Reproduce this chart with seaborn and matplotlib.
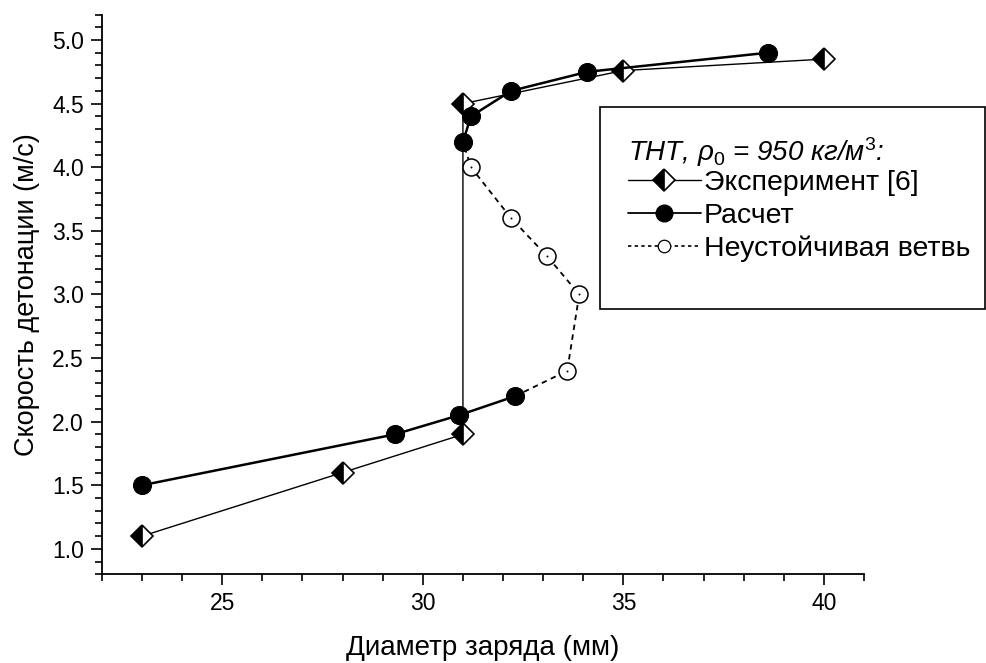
import matplotlib
matplotlib.use('Agg')
import numpy as np
import pandas as pd
import matplotlib.pyplot as plt
import seaborn as sns
from matplotlib.lines import Line2D
from matplotlib.patches import Rectangle

# data
exp_d = [23, 28, 31, 31, 35, 40]
exp_v = [1.1, 1.6, 1.9, 4.5, 4.76, 4.85]

calc_low_d = [23, 29.3, 30.9, 32.3]
calc_low_v = [1.5, 1.9, 2.05, 2.2]
calc_up_d = [31.0, 31.2, 32.2, 34.1, 38.6]
calc_up_v = [4.2, 4.4, 4.6, 4.75, 4.9]

unst_d = [32.3, 33.6, 33.9, 33.1, 32.2, 31.2, 31.0]
unst_v = [2.2, 2.4, 3.0, 3.3, 3.6, 4.0, 4.2]
unst_pts_d = unst_d[1:-1]
unst_pts_v = unst_v[1:-1]

x_ticks = [25, 30, 35, 40]
y_ticks = [1.0, 1.5, 2.0, 2.5, 3.0, 3.5, 4.0, 4.5, 5.0]

sns.set_theme(style="ticks")
plt.rcParams['font.family'] = ['Liberation Sans', 'DejaVu Sans']
plt.rcParams['mathtext.fontset'] = 'custom'
plt.rcParams['mathtext.rm'] = 'Liberation Sans'
plt.rcParams['mathtext.it'] = 'Liberation Sans:italic'
for k in ['text.color', 'axes.labelcolor', 'xtick.color', 'ytick.color', 'axes.edgecolor']:
    plt.rcParams[k] = 'black'

fig = plt.figure(figsize=(9.87, 6.63), dpi=100)
ax = fig.add_axes([0.1033, 0.1338, 0.7721, 0.8442])

# experiment: half-filled diamonds, thin line
sns.lineplot(x=exp_d, y=exp_v, sort=False, estimator=None, ax=ax,
             color='black', linewidth=1.0, marker='D', markersize=11,
             fillstyle='left', markerfacecolor='black', markerfacecoloralt='white',
             markeredgecolor='black', markeredgewidth=1.2, zorder=3)

# unstable branch: dashed, open circles with a dot
sns.lineplot(x=unst_d, y=unst_v, sort=False, estimator=None, ax=ax,
             color='black', linewidth=1.3, linestyle=(0, (3, 2.5)), zorder=2)
sns.scatterplot(x=unst_pts_d, y=unst_pts_v, ax=ax, marker='o', s=150,
                facecolor='white', edgecolor='black', linewidth=1.1, zorder=4)
sns.scatterplot(x=unst_pts_d, y=unst_pts_v, ax=ax, marker='o', s=2,
                color='black', linewidth=0, zorder=5)

# calculation: filled circles, thicker line
for d, v in [(calc_low_d, calc_low_v), (calc_up_d, calc_up_v)]:
    sns.lineplot(x=d, y=v, sort=False, estimator=None, ax=ax,
                 color='black', linewidth=1.8, marker='o', markersize=13,
                 markerfacecolor='black', markeredgecolor='black', zorder=6)

ax.set_xlim(22, 41)
ax.set_ylim(0.8, 5.2)
ax.set_xticks(x_ticks)
ax.set_yticks(y_ticks)
ax.set_xticks(np.arange(22, 42, 1), minor=True)
ax.set_yticks(np.arange(0.8, 5.21, 0.1), minor=True)
ax.yaxis.set_major_formatter(matplotlib.ticker.FormatStrFormatter('%.1f'))
ax.tick_params(which='major', length=8, width=1.2, labelsize=16.5, colors='black', pad=5)
ax.tick_params(which='minor', length=5, width=1.2, colors='black')
sns.despine(ax=ax)
for s in ['left', 'bottom']:
    ax.spines[s].set_linewidth(1.3)
    ax.spines[s].set_color('black')

ax.set_xlabel('Диаметр заряда (мм)', fontsize=20, labelpad=14, color='black')
ax.set_ylabel('Скорость детонации (м/с)', fontsize=19.5, labelpad=9, color='black')

# legend: frame and title drawn separately, entries via fig.legend
fig.text(628 / 987, 1 - 161 / 663,
         'ТНТ, $\\rho_{\\mathit{0}}$ = 950 кг/м$^{\\mathit{3}}$:',
         fontsize=20, style='italic', ha='left', va='baseline')
handles = [
    Line2D([], [], color='black', lw=1.0, marker='D', markersize=11, fillstyle='left',
           markerfacecolor='black', markerfacecoloralt='white', markeredgecolor='black',
           markeredgewidth=1.2),
    Line2D([], [], color='black', lw=1.3, marker='o', markersize=12,
           markerfacecolor='black', markeredgecolor='black'),
    Line2D([], [], color='black', lw=1.2, linestyle=(0, (2, 2)), marker='o', markersize=9,
           markerfacecolor='white', markeredgecolor='black', markeredgewidth=0.9),
]
labels = ['Эксперимент [6]', 'Расчет', 'Неустойчивая ветвь']
leg = fig.legend(handles, labels, loc='upper left',
                 bbox_to_anchor=(628 / 987, 1 - 170 / 663),
                 frameon=False, fontsize=20.5, handlelength=2.55, handletextpad=0.12,
                 labelspacing=0.23, borderpad=0, borderaxespad=0)
fig.patches.append(Rectangle((600 / 987, 1 - 309 / 663), 385 / 987, 202 / 663,
                             transform=fig.transFigure, fill=False,
                             edgecolor='black', linewidth=1.2))

fig.savefig('out.png', dpi=100)
